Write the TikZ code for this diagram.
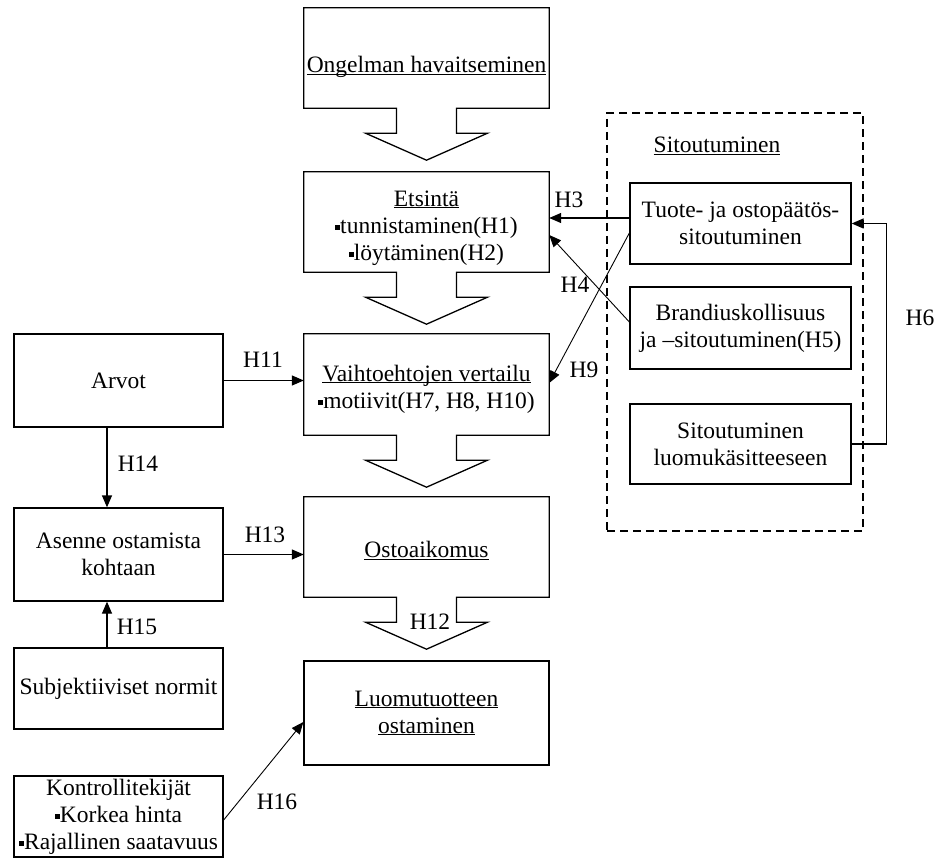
\documentclass[tikz,border=0pt]{standalone}
\usepackage{fontspec}
\setmainfont{Liberation Serif}
\usetikzlibrary{arrows.meta,calc}
\newcommand{\bul}{\raisebox{3.5pt}{\rule{5pt}{5pt}}}
\newcommand{\ulx}[1]{\underline{\smash{#1}\vphantom{H}}}
\newcommand{\stageoutline}[1]{%
  \draw[boxline] (#1.south west) -- (#1.north west) -- (#1.north east) -- (#1.south east)
    -- ($(#1.south)+(30,0)$) -- ($(#1.south)+(30,25)$) -- ($(#1.south)+(61,25)$)
    -- ($(#1.south)+(0,52)$) -- ($(#1.south)+(-61,25)$) -- ($(#1.south)+(-30,25)$)
    -- ($(#1.south)+(-30,0)$) -- cycle;}
\tikzset{
  txt/.style={font=\fontsize{23.5}{27}\selectfont},
  boxline/.style={line width=1.3pt, line join=miter},
  plainbox/.style={txt, draw, boxline, inner sep=0pt, align=center},
  stagebox/.style={inner sep=0pt, minimum width=245pt},
  stagetext/.style={txt, inner sep=0pt, align=center},
  leftbox/.style={plainbox, minimum width=209pt},
  rightbox/.style={plainbox, minimum width=221pt},
  grpbox/.style={draw, line width=1.3pt, dash pattern=on 8pt off 5pt},
  lbl/.style={txt, inner sep=0pt},
  arr/.style={-{Triangle[length=12pt,width=10pt]}, line width=1.3pt},
  arrthin/.style={arr, line width=0.9pt}
}
\begin{document}
\begin{tikzpicture}[x=1pt,y=-1pt]
\useasboundingbox (0,0) rectangle (942,858);

% central stages
\node[stagebox, minimum height=100pt,
  label={[stagetext, yshift=-8pt]center:\ulx{Ongelman havaitseminen}}] (ong) at (426.5,58) {};
\node[stagebox, minimum height=100pt,
  label={[stagetext, yshift=-6pt]center:{\ulx{Etsintä}\\\bul tunnistaminen(H1)\\\bul löytäminen(H2)}}] (ets) at (426.5,222) {};
\node[stagebox, minimum height=101pt,
  label={[stagetext, yshift=-5pt]center:{\ulx{Vaihtoehtojen vertailu}\\\bul motiivit(H7, H8, H10)}}] (vai) at (426.5,384.5) {};
\node[stagebox, minimum height=100pt,
  label={[stagetext, yshift=-4pt]center:\ulx{Ostoaikomus}}] (ost) at (426.5,547) {};
\node[plainbox, minimum width=245pt, minimum height=104pt] (luo) at (426.5,713) {\ulx{Luomutuotteen}\\\ulx{ostaminen}};
\stageoutline{ong}
\stageoutline{ets}
\stageoutline{vai}
\stageoutline{ost}

% left column
\node[leftbox, minimum height=93pt] (arvot) at (118.5,380.5) {Arvot};
\node[leftbox, minimum height=93pt] (asenne) at (118.5,554.5) {Asenne ostamista\\kohtaan};
\node[leftbox, minimum height=81pt] (subj) at (118.5,688.5) {Subjektiiviset normit};
\node[leftbox, minimum height=81pt] (kontr) at (118.5,816.5) {Kontrollitekijät\\\bul Korkea hinta\\\bul Rajallinen saatavuus};

% right group
\node[grpbox, minimum width=256pt, minimum height=418pt] (grp) at (735,322) {};
\node[lbl] (grplbl) at (717,146) {\ulx{Sitoutuminen}};
\node[rightbox, minimum height=81pt] (tuote) at (740.5,223.5) {Tuote- ja ostopäätös-\\sitoutuminen};
\node[rightbox, minimum height=82pt] (brandi) at (740.5,328) {Brandiuskollisuus\\ja –sitoutuminen(H5)};
\node[rightbox, minimum height=80pt] (sitl) at (740.5,444) {Sitoutuminen\\luomukäsitteeseen};

% connectors
\draw[arr] ([yshift=5.5pt]tuote.west) -- ([yshift=5.5pt]tuote.west -| ets.east);
\draw[arrthin] ([yshift=6pt]brandi.west) -- ([yshift=-13pt]ets.east);
\draw[arrthin] ([yshift=-9.5pt]tuote.west) -- ([yshift=1.5pt]vai.east);
\draw[arr] (sitl.east) -- ++(35,0) |- (tuote.east);
\draw[arr] (arvot.east) -- (arvot.east -| vai.west);
\draw[arr] ([xshift=-11.5pt]arvot.south) -- ([xshift=-11.5pt]arvot.south |- asenne.north);
\draw[arr] (asenne.east) -- (asenne.east -| ost.west);
\draw[arr] ([xshift=-11.5pt]subj.north) -- ([xshift=-11.5pt]subj.north |- asenne.south);
\draw[arrthin] ([yshift=-3.5pt]kontr.east) -- ([yshift=-9pt]luo.west);

% labels
\node[lbl] (h3) at (569,200) {H3};
\node[lbl] (h4) at (575,285) {H4};
\node[lbl] (h9) at (584,370) {H9};
\node[lbl] (h6) at (920,318) {H6};
\node[lbl] (h11) at (263,360) {H11};
\node[lbl] (h14) at (138,464) {H14};
\node[lbl] (h13) at (265,535) {H13};
\node[lbl] (h15) at (137,627) {H15};
\node[lbl] (h16) at (277,802) {H16};
\node[lbl] (h12) at (430,622) {H12};
\end{tikzpicture}
\end{document}
